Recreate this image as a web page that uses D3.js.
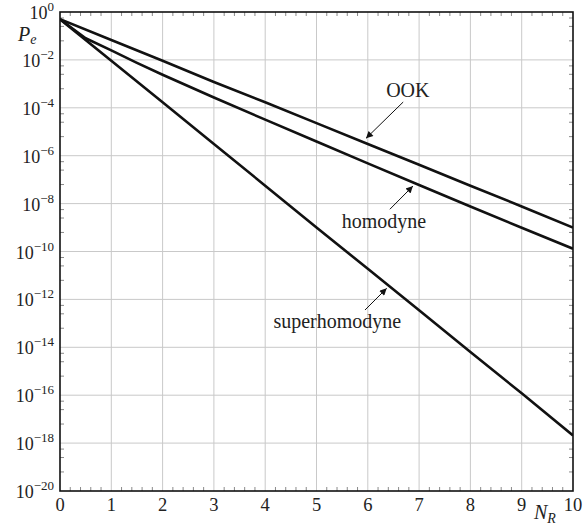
<!DOCTYPE html>
<html>
<head>
<meta charset="utf-8">
<script src="https://cdn.jsdelivr.net/npm/d3@7"></script>
<style>
  html, body { margin: 0; padding: 0; background: #fff; }
  svg { display: block; }
</style>
</head>
<body>
<svg id="chart" width="587" height="529"></svg>
<script>
// ---------- data ----------
const nrInt = [0, 1, 2, 3, 4, 5, 6, 7, 8, 9, 10];
const ookPe = [0.5, 0.068, 9.2e-3, 1.2e-3, 1.7e-4, 2.3e-5, 3.1e-6, 4.2e-7, 5.6e-8, 7.6e-9, 1.0e-9];
const superPe = [0.5, 9.2e-3, 1.7e-4, 3.1e-6, 5.6e-8, 1.0e-9, 1.9e-11, 3.5e-13, 6.3e-15, 1.2e-16, 2.1e-18];
const nrHom = [0, 0.5, 1, 1.5, 2, 3, 4, 5, 6, 7, 8, 9, 10];
const homPe = [0.5, 0.08, 0.025, 7.5e-3, 2.4e-3, 2.7e-4, 3.2e-5, 3.9e-6, 4.8e-7, 6.0e-8, 7.6e-9, 9.8e-10, 1.3e-10];

const xTicks = [0, 1, 2, 3, 4, 5, 6, 7, 8, 9, 10];
const yExponents = [0, -2, -4, -6, -8, -10, -12, -14, -16, -18, -20];
const yMinorFactors = [0.5625, 0.25, 0.0625];

// annotations: label anchor, leader start, arrow tip (data coordinates)
const annLabels = ["OOK", "homodyne", "superhomodyne"];
const annText = [[6.78, 2.9e-4, "middle"], [5.49, 9.6e-10, "start"], [4.16, 6.4e-14, "start"]];
const annFrom = [[6.69, 1.74e-4], [6.43, 5.8e-9], [5.945, 3.6e-13]];
const annTo = [[5.965, 5.3e-6], [6.88, 5.4e-8], [6.368, 2.9e-12]];

// ---------- layout ----------
const FONT = "'Liberation Serif', 'Times New Roman', Times, 'DejaVu Serif', serif";
const L = 60, R = 573, T = 12, B = 491;
const svg = d3.select("#chart").attr("font-family", FONT);
const x = d3.scaleLinear().domain([0, 10]).range([L, R]);
const y = d3.scaleLog().domain([1e-20, 1]).range([B, T]);

// grid
const grid = svg.append("g").attr("stroke", "#c9c9c9").attr("stroke-width", 1);
xTicks.filter(t => t > 0 && t < 10).forEach(t => {
  grid.append("line").attr("x1", x(t)).attr("x2", x(t)).attr("y1", T).attr("y2", B);
});
yExponents.filter(e => e < 0 && e > -20).forEach(e => {
  grid.append("line").attr("x1", L).attr("x2", R).attr("y1", y(Math.pow(10, e))).attr("y2", y(Math.pow(10, e)));
});

// minor ticks
const ticks = svg.append("g").attr("stroke", "#8a8a8a").attr("stroke-width", 1);
d3.range(0, 50).forEach(i => {
  if (i % 5 === 0) return;
  const xv = x(i / 5);
  ticks.append("line").attr("x1", xv).attr("x2", xv).attr("y1", B).attr("y2", B - 4);
  ticks.append("line").attr("x1", xv).attr("x2", xv).attr("y1", T).attr("y2", T + 4);
});
yExponents.filter(e => e > -20).forEach(e => {
  yMinorFactors.forEach(m => {
    const yv = y(Math.pow(10, e) * m);
    ticks.append("line").attr("x1", L).attr("x2", L + 4).attr("y1", yv).attr("y2", yv);
    ticks.append("line").attr("x1", R).attr("x2", R - 4).attr("y1", yv).attr("y2", yv);
  });
});

// curves
svg.append("clipPath").attr("id", "clip").append("rect")
  .attr("x", L).attr("y", T).attr("width", R - L).attr("height", B - T);
const line = d3.line().x(d => x(d[0])).y(d => y(d[1]));
const curves = [
  d3.zip(nrInt, ookPe),
  d3.zip(nrHom, homPe),
  d3.zip(nrInt, superPe)
];
svg.append("g").attr("clip-path", "url(#clip)")
  .selectAll("path").data(curves).join("path")
  .attr("d", line).attr("fill", "none").attr("stroke", "#111")
  .attr("stroke-width", 2.6).attr("stroke-linejoin", "round");

// frame
svg.append("rect").attr("x", L).attr("y", T).attr("width", R - L).attr("height", B - T)
  .attr("fill", "none").attr("stroke", "#111").attr("stroke-width", 1.6);

// x tick labels
svg.append("g").selectAll("text").data(xTicks).join("text")
  .attr("font-family", FONT).attr("fill", "#222")
  .attr("x", d => x(d)).attr("y", 511).attr("text-anchor", "middle")
  .attr("font-size", 18.5).text(d => d);

// y tick labels
const yl = svg.append("g").selectAll("text").data(yExponents).join("text")
  .attr("font-family", FONT).attr("fill", "#222")
  .attr("x", 54).attr("y", d => y(Math.pow(10, d)) + 7).attr("text-anchor", "end")
  .attr("font-size", 18);
yl.append("tspan").text("10");
yl.append("tspan").attr("dy", -8).attr("font-size", 13)
  .text(d => d === 0 ? "0" : "\u2212" + Math.abs(d));

// axis titles
const pe = svg.append("text").attr("font-family", FONT).attr("fill", "#222")
  .attr("x", 18).attr("y", 41).attr("font-size", 20).attr("font-style", "italic");
pe.append("tspan").text("P");
pe.append("tspan").attr("dy", 3).attr("font-size", 14).text("e");
const nr = svg.append("text").attr("font-family", FONT).attr("fill", "#222")
  .attr("x", 534).attr("y", 519).attr("font-size", 20).attr("font-style", "italic");
nr.append("tspan").text("N");
nr.append("tspan").attr("dy", 4).attr("font-size", 14).text("R");

// annotations
const defs = svg.append("defs");
defs.append("marker").attr("id", "arrow").attr("viewBox", "0 0 10 10")
  .attr("refX", 10).attr("refY", 5).attr("markerWidth", 9).attr("markerHeight", 7)
  .attr("markerUnits", "userSpaceOnUse").attr("orient", "auto")
  .append("path").attr("d", "M0,0 L10,5 L0,10 Z").attr("fill", "#111");
annLabels.forEach((lab, i) => {
  svg.append("line")
    .attr("x1", x(annFrom[i][0])).attr("y1", y(annFrom[i][1]))
    .attr("x2", x(annTo[i][0])).attr("y2", y(annTo[i][1]))
    .attr("stroke", "#111").attr("stroke-width", 1).attr("marker-end", "url(#arrow)");
  svg.append("text").attr("font-family", FONT).attr("fill", "#222")
    .attr("x", x(annText[i][0])).attr("y", y(annText[i][1]))
    .attr("text-anchor", annText[i][2]).attr("font-size", 20).text(lab);
});
</script>
</body>
</html>
